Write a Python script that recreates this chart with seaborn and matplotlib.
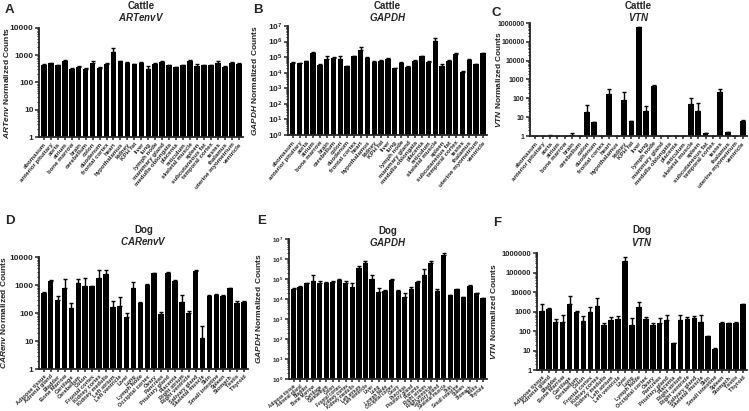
import numpy as np
import pandas as pd
import matplotlib
matplotlib.use("Agg")
import matplotlib.pyplot as plt
from matplotlib.ticker import FuncFormatter, LogLocator, NullFormatter
import seaborn as sns

# ---------------- data ----------------
cattle_tissues = ["abomasum", "anterior pituitary", "aorta", "atrium", "bone marrow", "brain",
                  "cerebellum", "colon", "duodenum", "frontal cortex", "heart", "hypothalamus",
                  "kidney", "KPH fat", "liver", "lung", "lymph node", "mammary gland",
                  "medulla oblongata", "placenta", "reticulum", "skeletal muscle", "spleen",
                  "subcutaneous fat", "temporal cortex", "testes", "thalamus",
                  "uterine myometrium", "ventricle"]

dog_tissues = ["Adipose tissue", "Adrenal gland", "Bladder", "Bone Marrow", "Cartilage",
               "Cerebellum", "Colon", "Frontal cortex", "Kidney cortex", "Kidney medulla",
               "Left atrium", "Left ventricle", "Liver", "Lung", "Lymph Node",
               "Occipital cortex", "Ovary", "Pancreas", "Pituitary gland", "Placenta",
               "Right atrium", "Right ventricle", "Salivary gland", "Skeletal muscle", "Skin",
               "Small intestine", "Spleen", "Stomach", "Testis", "Thyroid"]

cattle_artenv = [450, 500, 430, 620, 320, 380, 320, 530, 350, 480, 1300, 600, 500, 460, 530,
                 320, 470, 570, 430, 360, 430, 600, 400, 430, 430, 530, 370, 520, 490]
cattle_artenv_err = [20, 30, 20, 40, 15, 40, 15, 80, 20, 25, 600, 40, 60, 25, 50,
                     80, 30, 40, 25, 20, 25, 80, 60, 25, 20, 90, 20, 30, 25]

cattle_gapdh = [4.5e4, 4.0e4, 5.5e4, 1.9e5, 3.2e4, 8.0e4, 9.0e4, 7.5e4, 2.6e4, 1.1e5, 2.8e5,
                9.0e4, 5.0e4, 6.0e4, 7.5e4, 1.9e4, 4.5e4, 2.4e4, 6.0e4, 1.1e5, 5.0e4, 1.1e6,
                2.8e4, 6.0e4, 1.6e5, 1.1e4, 7.0e4, 3.5e4, 1.8e5]
cattle_gapdh_err = [3e3, 3e3, 5e3, 2e4, 3e3, 4e4, 1e4, 3.5e4, 2e3, 1e4, 1.7e5,
                    8e3, 5e3, 5e3, 1e4, 2e3, 4e3, 2e3, 5e3, 1e4, 4e3, 5e5,
                    8e3, 5e3, 1.5e4, 1e3, 6e3, 3e3, 1.5e4]

cattle_vtn = [1, 1, 1.05, 1, 1, 1.1, 1, 18, 5.5, 1, 170, 1, 85, 6, 600000, 22, 480,
              1, 1, 1, 1, 50, 22, 1.4, 1, 230, 1.6, 1, 6.5]
cattle_vtn_err = [0, 0, 0.02, 0, 0, 0.4, 0, 27, 0.3, 0, 150, 0, 135, 0.3, 50000, 16, 30,
                  0, 0, 0, 0, 60, 38, 0.1, 0, 90, 0.1, 0, 0.3]

dog_carenv = [500, 1400, 300, 800, 150, 1200, 900, 900, 1800, 2500, 170, 180, 70, 800, 220,
              1000, 2600, 90, 2700, 1400, 250, 100, 3200, 13, 420, 450, 420, 750, 220, 250]
dog_carenv_err = [60, 50, 100, 900, 70, 400, 900, 50, 1500, 1000, 90, 200, 30, 500, 20,
                  60, 100, 15, 300, 80, 200, 15, 150, 20, 20, 20, 20, 40, 50, 15]

dog_gapdh = [3.0e4, 4.0e4, 6.0e4, 8.0e4, 6.0e4, 6.0e4, 7.0e4, 9.0e4, 6.0e4, 4.0e4, 3.5e5,
             6.0e5, 1.0e5, 2.2e4, 2.5e4, 9.0e4, 2.5e4, 1.3e4, 3.0e4, 7.0e4, 1.5e5, 6.0e5,
             2.6e4, 1.5e6, 1.5e4, 3.0e4, 1.2e4, 4.5e4, 1.9e4, 1.1e4]
dog_gapdh_err = [4e3, 3e3, 6e3, 7e4, 1.5e4, 1e4, 1e4, 1e4, 1.5e4, 2e4, 1e5,
                 2e5, 6e4, 1.2e4, 3e3, 1e4, 2e3, 7e3, 1e4, 5e3, 1.5e5, 2e5,
                 6e3, 5e5, 1e3, 2e3, 1e3, 4e3, 1.5e3, 5e2]

dog_vtn = [1100, 1400, 300, 280, 2300, 1000, 320, 900, 1900, 210, 350, 420, 400000, 200, 1800,
           420, 200, 260, 350, 24, 350, 430, 450, 280, 55, 12, 270, 260, 260, 2300]
dog_vtn_err = [1400, 80, 100, 420, 3700, 100, 280, 900, 3100, 60, 200, 180, 250000, 250, 1200,
               130, 50, 220, 300, 1, 350, 70, 150, 370, 2, 1, 10, 10, 40, 100]

# ---------------- style ----------------
sns.set_style("ticks")
plt.rcParams["font.family"] = ["Liberation Sans", "DejaVu Sans"]
plt.rcParams["font.weight"] = "bold"
plt.rcParams["mathtext.fontset"] = "custom"
plt.rcParams["mathtext.rm"] = "Liberation Sans:bold"
plt.rcParams["mathtext.it"] = "Liberation Sans:italic:bold"
plt.rcParams["mathtext.bf"] = "Liberation Sans:bold"
plt.rcParams["axes.linewidth"] = 1.3

W, H = 749, 411
fig = plt.figure(figsize=(W / 100, H / 100), dpi=100)


def add_ax(l, r, t, b):
    return fig.add_axes([l / W, 1 - b / H, (r - l) / W, (b - t) / H]), (l, r, t, b)


def plain_fmt(v, pos):
    if v >= 1 and abs(np.log10(v) - round(np.log10(v))) < 1e-6:
        return "%d" % round(v)
    return ""


def panel(axbox, cats, vals, errs, ymax, species, gene, ylab, sci, rot, xfs, letter, lpos,
          ylab_x, t1y, t2y, tfs=6.0):
    ax, (l, r, t, b) = axbox
    df = pd.DataFrame({"tissue": cats, "value": vals})
    sns.barplot(data=df, x="tissue", y="value", color="black", width=0.8,
                saturation=1, ax=ax, errorbar=None, edgecolor="none")
    x = np.arange(len(cats))
    ax.errorbar(x, vals, yerr=[np.zeros(len(errs)), errs], fmt="none", ecolor="black",
                elinewidth=1.0, capsize=1.6, capthick=1.0)
    ax.set_yscale("log")
    ax.set_ylim(1, ymax)
    ax.set_xlim(-0.7, len(cats) - 0.4)
    ax.yaxis.set_major_locator(LogLocator(base=10, numticks=12))
    ax.yaxis.set_minor_locator(LogLocator(base=10, subs=np.arange(2, 10), numticks=12))
    ax.yaxis.set_minor_formatter(NullFormatter())
    if not sci:
        ax.yaxis.set_major_formatter(FuncFormatter(plain_fmt))
    sns.despine(ax=ax)
    ax.tick_params(axis="y", labelsize=tfs, width=1.1, length=3, pad=1)
    ax.tick_params(axis="y", which="minor", width=0.8, length=1.6)
    ax.tick_params(axis="x", labelsize=xfs, width=1.1, length=2.5, pad=1)
    ax.set_xticks(x)
    ax.set_xticklabels(cats, rotation=rot, ha="right", rotation_mode="anchor",
                       fontweight="bold")
    ax.set_xlabel("")
    ax.set_ylabel(r"$\it{%s}$ Normalized Counts" % ylab, fontsize=6.0, fontweight="bold")
    ax.yaxis.set_label_coords((ylab_x - l) / (r - l), 0.5)
    cx = (l + r) / 2 / W
    fig.text(cx, 1 - t1y / H, species, fontsize=7, fontweight="bold", ha="center", va="center")
    fig.text(cx, 1 - t2y / H, r"$\it{%s}$" % gene, fontsize=7, ha="center", va="center")
    fig.text(lpos[0] / W, 1 - lpos[1] / H, letter, fontsize=9.5, fontweight="bold",
             ha="left", va="center")


panel(add_ax(39, 243, 28, 137), cattle_tissues, cattle_artenv, cattle_artenv_err, 10000,
      "Cattle", "ARTenvV", "ARTenv", False, 50, 4.4, "A", (5, 10), 11, 6, 17)

panel(add_ax(288, 487, 26, 135), cattle_tissues, cattle_gapdh, cattle_gapdh_err, 1e7,
      "Cattle", "GAPDH", "GAPDH", True, 50, 4.4, "B", (253, 10), 259, 6, 17)

panel(add_ax(530, 747, 23, 136), cattle_tissues, cattle_vtn, cattle_vtn_err, 1e6,
      "Cattle", "VTN", "VTN", False, 50, 4.4, "C", (492, 13), 503, 6, 17, tfs=5.0)

panel(add_ax(39, 248, 257, 369), dog_tissues, dog_carenv, dog_carenv_err, 10000,
      "Dog", "CARenvV", "CARenv", False, 45, 4.1, "D", (5, 221), 8, 230, 241)

panel(add_ax(289, 487, 239, 379), dog_tissues, dog_gapdh, dog_gapdh_err, 1e7,
      "Dog", "GAPDH", "GAPDH", True, 40, 3.3, "E", (257, 221), 263, 231, 242, tfs=4.5)

panel(add_ax(537, 747, 253, 370), dog_tissues, dog_vtn, dog_vtn_err, 1e6,
      "Dog", "VTN", "VTN", False, 45, 4.1, "F", (493, 223), 498, 230, 242, tfs=5.5)

fig.savefig("out.png", dpi=100)
